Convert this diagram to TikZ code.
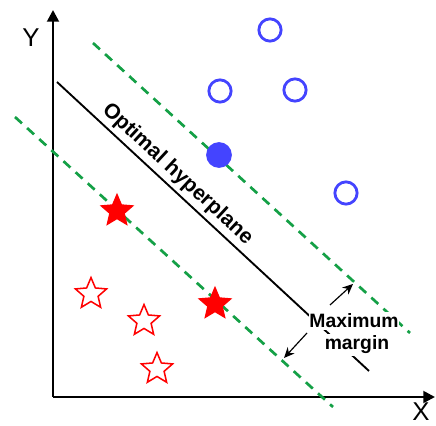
\documentclass[tikz,border=0pt]{standalone}
\usepackage{fontspec}
\setmainfont{Liberation Sans}
\usetikzlibrary{shapes.geometric,arrows.meta}
\definecolor{svmblue}{RGB}{68,68,255}
\definecolor{svmgreen}{RGB}{20,160,70}
\tikzset{
  openpt/.style={circle,draw=svmblue,line width=2.4pt,minimum size=19pt,inner sep=0pt},
  fullpt/.style={circle,fill=svmblue,minimum size=22pt,inner sep=0pt},
  openstar/.style={star,star points=5,star point ratio=2.2,draw=red,line width=1.3pt,minimum size=28pt,inner sep=0pt},
  fullstar/.style={star,star points=5,star point ratio=2.2,fill=red,minimum size=31pt,inner sep=0pt},
  marginline/.style={svmgreen,line width=2.3pt,dash pattern=on 8pt off 6pt},
  axislabel/.style={font=\fontsize{22}{24}\selectfont},
  marginlabel/.style={fill=white,inner xsep=0.3pt,inner ysep=1.5pt,font=\fontsize{16.5}{18}\selectfont\bfseries},
}
\begin{document}
\begin{tikzpicture}[x=0.03cm,y=-0.03cm]
  \useasboundingbox (0,0) rectangle (436,426);
  % Axes
  \coordinate (origin) at (53,397);
  \coordinate (ytip) at (53,10);
  \coordinate (xtip) at (435,397);
  \draw[line width=2.3pt,-{Triangle[length=10pt,width=10pt]}] (origin) -- (ytip);
  \draw[line width=2.3pt,-{Triangle[length=10pt,width=10pt]}] (origin) -- (xtip);
  \node[axislabel] (ylab) at (31,38) {Y};
  \node[axislabel] (xlab) at (421,412) {X};
  % Margin lines
  \coordinate (upA) at (93,43);
  \coordinate (upB) at (410,333);
  \coordinate (loA) at (15,117);
  \coordinate (loB) at (333,407);
  \draw[marginline] (upA) -- (upB);
  \draw[marginline] (loA) -- (loB);
  % Hyperplane
  \coordinate (hpA) at (57,82);
  \coordinate (hpB) at (369,371);
  \draw[line width=1.6pt] (hpA) -- (hpB)
    node[pos=0.355,sloped,above,inner sep=3pt,font=\fontsize{18}{20}\selectfont\bfseries] (hplab) {Optimal hyperplane};
  % Class one: circles
  \node[openpt] (c1) at (270,30) {};
  \node[openpt] (c2) at (220,91) {};
  \node[openpt] (c3) at (295,90) {};
  \node[openpt] (c4) at (346,193) {};
  \node[fullpt] (c5) at (219,155) {};
  % Class two: stars
  \node[fullstar] (s1) at (117,211) {};
  \node[fullstar] (s2) at (215,304) {};
  \node[openstar] (s3) at (91,294) {};
  \node[openstar] (s4) at (144,321) {};
  \node[openstar] (s5) at (157,369) {};
  % Margin label and arrows
  \node[marginlabel] (mmtop) at (354,321) {Maximum};
  \node[marginlabel] (mmbot) at (357,345) {margin};
  \coordinate (tailUp) at (330,305);
  \coordinate (tipUp) at (353,284);
  \coordinate (tailLo) at (307,333);
  \coordinate (tipLo) at (284,358);
  \draw[line width=1pt,-{Stealth[length=9pt,width=8pt]}] (tailUp) -- (tipUp);
  \draw[line width=1pt,-{Stealth[length=9pt,width=8pt]}] (tailLo) -- (tipLo);
\end{tikzpicture}
\end{document}
